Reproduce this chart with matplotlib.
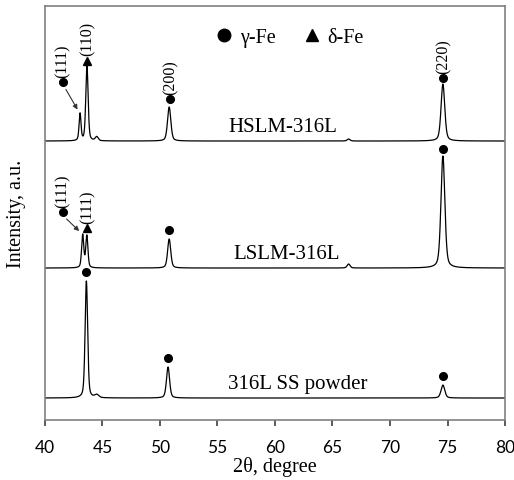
import numpy as np
import matplotlib
matplotlib.use("Agg")
import matplotlib.pyplot as plt
from matplotlib.lines import Line2D

# peak positions (2theta), heights and widths, per pattern
powder_pos = [43.6, 44.5, 50.7, 74.6]
powder_h = [117, 3, 31, 13]
powder_w = [0.26, 0.4, 0.32, 0.38]

lslm_pos = [43.28, 43.64, 50.8, 66.4, 74.6]
lslm_h = [33, 32, 29, 4, 112]
lslm_w = [0.22, 0.22, 0.32, 0.3, 0.4]

hslm_pos = [43.05, 43.65, 44.5, 50.8, 66.4, 74.6]
hslm_h = [27, 75, 4, 34, 2, 57]
hslm_w = [0.2, 0.24, 0.3, 0.34, 0.3, 0.38]

offsets = [22, 152, 279]
names = ["316L SS powder", "LSLM-316L", "HSLM-316L"]
name_x = [62.0, 61.0, 60.7]

serif = "Liberation Serif"
tt = np.linspace(40, 80, 4001)


def pattern(pos, h, w):
    # pseudo-Voigt peaks on a flat baseline
    y = np.zeros_like(tt)
    for p, a, fw in zip(pos, h, w):
        g = (fw / 2) ** 2
        lor = g / ((tt - p) ** 2 + g)
        gau = np.exp(-4 * np.log(2) * (tt - p) ** 2 / fw ** 2)
        y += a * (0.6 * gau + 0.4 * lor)
    return y


fig = plt.figure(figsize=(5.14, 4.81), dpi=100)
ax = fig.add_axes([0.0875, 0.1247, 0.895, 0.8607])

curves = [(powder_pos, powder_h, powder_w),
          (lslm_pos, lslm_h, lslm_w),
          (hslm_pos, hslm_h, hslm_w)]
for (pos, h, w), off in zip(curves, offsets):
    ax.plot(tt, pattern(pos, h, w) + off, color="black", lw=0.9)

gap = 9
ms = 5.5
# powder markers
for p, a in [(43.6, 117), (50.7, 31), (74.6, 13)]:
    ax.plot(p, offsets[0] + a + gap, "o", color="black", ms=ms)

# LSLM markers
o = offsets[1]
ax.plot(43.64, o + 33 + 7, "^", color="black", ms=ms)
ax.plot(50.8, o + 29 + gap, "o", color="black", ms=ms)
ax.plot(74.6, o + 112 + 7, "o", color="black", ms=ms)
ax.plot(41.57, o + 56, "o", color="black", ms=ms)
ax.annotate("", xy=(43.15, o + 35), xytext=(41.7, o + 51),
            arrowprops=dict(arrowstyle="-|>", color="#333333", lw=0.8,
                            mutation_scale=7))
ax.text(41.57, o + 61, "(111)", rotation=90, ha="center", va="bottom",
        family=serif, fontsize=11.5)
ax.text(43.75, o + 45, "(111)", rotation=90, ha="center", va="bottom",
        family=serif, fontsize=11.5)

# HSLM markers
o = offsets[2]
ax.plot(43.65, o + 75 + 5, "^", color="black", ms=ms)
ax.plot(50.87, o + 34 + 8, "o", color="black", ms=ms)
ax.plot(74.6, o + 57 + 6, "o", color="black", ms=ms)
ax.plot(41.57, o + 59, "o", color="black", ms=ms)
ax.annotate("", xy=(42.95, o + 29), xytext=(41.7, o + 54),
            arrowprops=dict(arrowstyle="-|>", color="#333333", lw=0.8,
                            mutation_scale=7))
for x, y, s in [(41.57, o + 64, "(111)"), (43.75, o + 86, "(110)"),
                (50.95, o + 47, "(200)"), (74.65, o + 68, "(220)")]:
    ax.text(x, y, s, rotation=90, ha="center", va="bottom",
            family=serif, fontsize=11.5)

# sample names
for x, off, s in zip(name_x, offsets, names):
    ax.text(x, off + 10, s, ha="center", va="baseline", family=serif,
            fontsize=15)

handles = [Line2D([], [], ls="none", marker="o", color="black", ms=9),
           Line2D([], [], ls="none", marker="^", color="black", ms=8)]
ax.legend(handles, ["\u03b3-Fe", "\u03b4-Fe"], ncol=2, frameon=False,
          loc="upper center", bbox_to_anchor=(0.53, 0.99),
          prop=dict(family=serif, size=14.5), handletextpad=0.3,
          columnspacing=1.3, handlelength=1.0)

ax.set_xlim(40, 80)
ax.set_ylim(0, 414)
ax.set_xticks(range(40, 81, 5))
ax.set_yticks([])
for s in ax.spines.values():
    s.set_color("#808080")
    s.set_linewidth(1.2)
ax.tick_params(axis="x", direction="out", length=4, width=1.2, color="#404040",
               labelsize=12.5, pad=10)
for lab in ax.get_xticklabels():
    lab.set_family("Lato")
ax.set_xlabel("2\u03b8, degree", family=serif, fontsize=14.5)
ax.xaxis.set_label_coords(0.5, -0.088)
ax.set_ylabel("Intensity, a.u.", family=serif, fontsize=14.5)
ax.yaxis.set_label_coords(-0.042, 0.5)

fig.savefig("out.png", dpi=100)
